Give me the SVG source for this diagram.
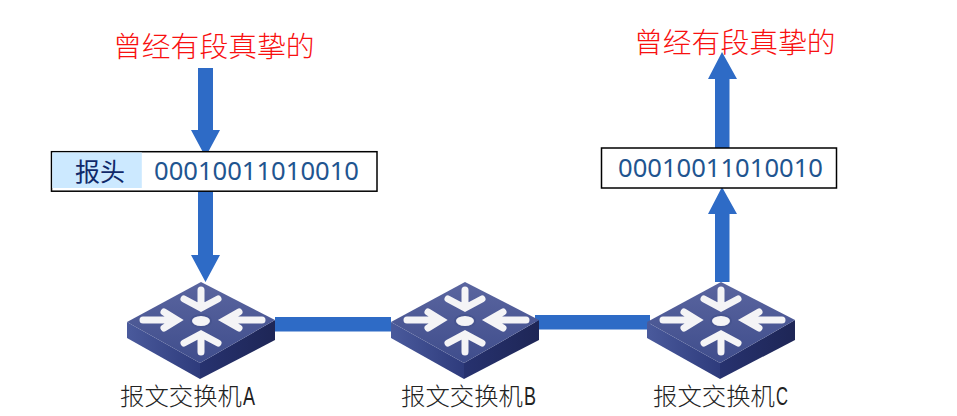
<svg xmlns="http://www.w3.org/2000/svg" width="957" height="416" viewBox="0 0 957 416">
<style>
.red{font:28.8px "Noto Sans CJK SC","Liberation Sans",sans-serif;fill:#f81010;font-weight:300}
.bits{font:25.6px "Noto Sans","Liberation Sans",sans-serif;fill:#1f5590}
.hd{font:25px "Noto Sans CJK SC","Liberation Sans",sans-serif;fill:#10296a}
.lab{font:24.400px "Noto Sans CJK SC","Liberation Sans",sans-serif;fill:#222;font-weight:300}
.lat{font:26px "Liberation Sans",sans-serif;fill:#222}
.box{fill:#fff;stroke:#000;stroke-width:1.5}
.c{fill:#2e6bc6}
.ar{fill:none;stroke:#f4f4f6;stroke-width:7;stroke-linecap:round;stroke-linejoin:miter}
</style>
<defs>
<linearGradient id="top" x1="0" y1="0" x2="0" y2="1"><stop offset="0" stop-color="#5a659f"/><stop offset="1" stop-color="#3f4d8c"/></linearGradient>
<linearGradient id="sl" x1="0" y1="0" x2="1" y2="0"><stop offset="0" stop-color="#4a5a9c"/><stop offset="1" stop-color="#2e3b7c"/></linearGradient>
<linearGradient id="sr" x1="0" y1="0" x2="1" y2="0"><stop offset="0" stop-color="#27326f"/><stop offset="1" stop-color="#1e2656"/></linearGradient>
<g id="sw">
<path d="M127 322L200 363V379L127 338Z" fill="url(#sl)"/>
<path d="M275 320L200 363V379L275 340Z" fill="url(#sr)"/>
<path d="M201 282L275 320L200 363L127 322Z" fill="url(#top)"/>
<path class="ar" d="M201 290V306M184 299L201 308L218 299"/>
<path class="ar" d="M201 352V336M184 343L201 334L218 343"/>
<path class="ar" d="M143 320H172M164 312L177 320L164 328"/>
<path class="ar" d="M262 320H230M239 312L225 320L239 328"/>
<ellipse cx="201" cy="321" rx="10" ry="6" fill="#f4f4f6" stroke="#47548f" stroke-width="2"/>
</g>
</defs>
<g id="connectors">
<path class="c" d="M198 68H213V130H220L205.500 157L191 130H198Z"/>
<path class="c" d="M198 191H213V255H220L205.500 282L191 255H198Z"/>
<path class="c" d="M715 148H729.500V79H737L722 52L708 79H715Z"/>
<path class="c" d="M715 282H729.500V214H737L722 187L708 214H715Z"/>
<rect class="c" x="275" y="317" width="116" height="14.500"/>
<rect class="c" x="535" y="315" width="115" height="14.500"/>
</g>
<g id="source"><text class="red" x="113" y="57">曾经有段真挚的</text></g>
<g id="dest"><text class="red" x="634" y="53">曾经有段真挚的</text></g>
<g id="packet-a">
<rect class="box" x="51.500" y="151.700" width="325.500" height="39.500"/>
<rect x="52.300" y="152.500" width="89.500" height="35.500" fill="#cce9ff"/>
<text class="hd" x="75" y="181">报头</text>
<text class="bits" x="154" y="180">00010011010010</text>
</g>
<g id="packet-c">
<rect class="box" x="601.500" y="148" width="235" height="40"/>
<text class="bits" x="618" y="177">00010011010010</text>
</g>
<g id="switch-a"><use href="#sw"/><text class="lab" x="120" y="405">报文交换机</text><text class="lat" x="243" y="405" textLength="12" lengthAdjust="spacingAndGlyphs">A</text></g>
<g id="switch-b"><use href="#sw" x="264"/><text class="lab" x="401" y="405">报文交换机</text><text class="lat" x="524" y="405" textLength="12" lengthAdjust="spacingAndGlyphs">B</text></g>
<g id="switch-c"><use href="#sw" x="520"/><text class="lab" x="653" y="405">报文交换机</text><text class="lat" x="776" y="405" textLength="12" lengthAdjust="spacingAndGlyphs">C</text></g>
</svg>
